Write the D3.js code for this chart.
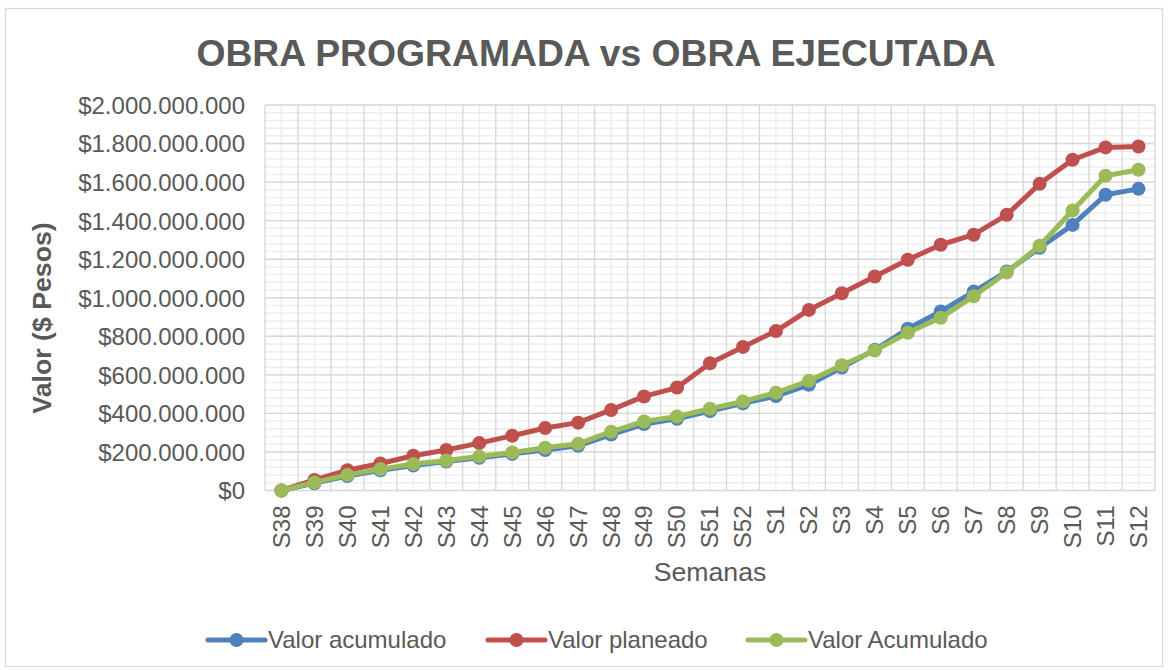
<!DOCTYPE html>
<html>
<head>
<meta charset="utf-8">
<script src="https://cdn.jsdelivr.net/npm/d3@7"></script>
<style>
  body { margin: 0; background: #fff; }
  text { font-family: 'Liberation Sans', Arial, sans-serif; fill: #595959; }
</style>
</head>
<body>
<div id="chart"></div>
<script>
var semanas = ['S38', 'S39', 'S40', 'S41', 'S42', 'S43', 'S44', 'S45', 'S46', 'S47', 'S48', 'S49', 'S50', 'S51', 'S52',
  'S1', 'S2', 'S3', 'S4', 'S5', 'S6', 'S7', 'S8', 'S9', 'S10', 'S11', 'S12']

// millones de pesos
var valorAcumulado = [0, 38, 75, 105, 130, 150, 170, 190, 210, 232, 290, 345, 372, 412, 452,
  490, 548, 638, 730, 839, 929, 1032, 1136, 1259, 1378, 1534, 1565]
var valorPlaneado = [0, 55, 105, 140, 180, 210, 246, 284, 324, 352, 418, 488, 534, 660, 745,
  827, 937, 1023, 1110, 1197, 1275, 1327, 1430, 1591, 1716, 1780, 1785]
var valorAcumulado2 = [0, 42, 81, 111, 137, 156, 176, 197, 222, 242, 305, 358, 384, 424, 462,
  507, 569, 650, 726, 818, 896, 1008, 1131, 1270, 1453, 1633, 1664]

var yTicks = [0, 200, 400, 600, 800, 1000, 1200, 1400, 1600, 1800, 2000]

var series = [
  { name: 'Valor acumulado', values: valorAcumulado, color: '#4F81BD' },
  { name: 'Valor planeado', values: valorPlaneado, color: '#C0504D' },
  { name: 'Valor Acumulado', values: valorAcumulado2, color: '#9BBB59' }
]

var W = 1168
var H = 670
var plot = { left: 265, right: 1155, top: 105, bottom: 490.5 }

var svg = d3
  .select('#chart')
  .append('svg')
  .attr('width', W)
  .attr('height', H)

// chart border
svg
  .append('rect')
  .attr('x', 5.5)
  .attr('y', 8.5)
  .attr('width', 1157)
  .attr('height', 658)
  .attr('fill', 'none')
  .attr('stroke', '#d9d9d9')
  .attr('stroke-width', 1.3)

var xScale = d3
  .scaleBand()
  .domain(semanas)
  .range([plot.left, plot.right])

var yScale = d3
  .scaleLinear()
  .domain([0, 2000])
  .range([plot.bottom, plot.top])

var money = function(v) {
  return '$' + d3.format(',')(v * 1e6).replace(/,/g, '.')
}

// minor grid
var grid = svg.append('g').attr('class', 'grid')
grid
  .selectAll('.hminor')
  .data(d3.range(0, 2001, 40))
  .enter()
  .append('line')
  .attr('x1', plot.left)
  .attr('x2', plot.right)
  .attr('y1', d => yScale(d))
  .attr('y2', d => yScale(d))
  .attr('stroke', '#eeeeee')
  .attr('stroke-width', 1.5)

grid
  .selectAll('.vminor')
  .data(semanas)
  .enter()
  .append('line')
  .attr('x1', d => xScale(d) + xScale.bandwidth() / 2)
  .attr('x2', d => xScale(d) + xScale.bandwidth() / 2)
  .attr('y1', plot.top)
  .attr('y2', plot.bottom)
  .attr('stroke', '#eeeeee')
  .attr('stroke-width', 1.5)

// major grid
grid
  .selectAll('.hmajor')
  .data(yTicks)
  .enter()
  .append('line')
  .attr('x1', plot.left)
  .attr('x2', plot.right)
  .attr('y1', d => yScale(d))
  .attr('y2', d => yScale(d))
  .attr('stroke', '#d9d9d9')
  .attr('stroke-width', 1.4)

grid
  .selectAll('.vmajor')
  .data(semanas.concat(['end']))
  .enter()
  .append('line')
  .attr('x1', d => (d === 'end' ? plot.right : xScale(d)))
  .attr('x2', d => (d === 'end' ? plot.right : xScale(d)))
  .attr('y1', plot.top)
  .attr('y2', plot.bottom)
  .attr('stroke', '#d9d9d9')
  .attr('stroke-width', 1.4)

// y axis labels
var yAxis = d3
  .axisLeft(yScale)
  .tickValues(yTicks)
  .tickFormat(money)
  .tickSize(0)
  .tickPadding(20)
svg
  .append('g')
  .attr('class', 'axis y-axis')
  .attr('transform', 'translate(' + plot.left + ',0)')
  .call(yAxis)
  .call(g => g.select('.domain').remove())
  .selectAll('text')
  .attr('font-size', 24)
  .attr('font-family', null)
  .attr('fill', '#595959')
  .attr('dy', '0.35em')

// x axis labels
var xAxis = d3.axisBottom(xScale).tickSize(0)
svg
  .append('g')
  .attr('class', 'axis x-axis')
  .attr('transform', 'translate(0,' + plot.bottom + ')')
  .call(xAxis)
  .call(g => g.select('.domain').remove())
  .selectAll('text')
  .attr('font-size', 24)
  .attr('font-family', null)
  .attr('fill', '#595959')
  .attr('text-anchor', 'end')
  .attr('transform', 'rotate(-90)')
  .attr('x', -15)
  .attr('y', 0)
  .attr('dy', '0.35em')

// lines + markers
var line = d3
  .line()
  .x((d, i) => xScale(semanas[i]) + xScale.bandwidth() / 2)
  .y(d => yScale(d))

series.forEach(s => {
  var g = svg.append('g')
  g.append('path')
    .datum(s.values)
    .attr('d', line)
    .attr('fill', 'none')
    .attr('stroke', s.color)
    .attr('stroke-width', 5)
    .attr('stroke-linejoin', 'round')
  g.selectAll('circle')
    .data(s.values)
    .enter()
    .append('circle')
    .attr('cx', (d, i) => xScale(semanas[i]) + xScale.bandwidth() / 2)
    .attr('cy', d => yScale(d))
    .attr('r', 7)
    .attr('fill', s.color)
})

// title
svg
  .append('text')
  .attr('x', 596)
  .attr('y', 66)
  .attr('text-anchor', 'middle')
  .attr('font-size', 37.3)
  .attr('font-weight', 'bold')
  .text('OBRA PROGRAMADA vs OBRA EJECUTADA')

svg
  .append('text')
  .attr('transform', 'translate(51,318) rotate(-90)')
  .attr('text-anchor', 'middle')
  .attr('font-size', 26.7)
  .attr('font-weight', 'bold')
  .text('Valor ($ Pesos)')

svg
  .append('text')
  .attr('x', 710)
  .attr('y', 581)
  .attr('text-anchor', 'middle')
  .attr('font-size', 26.7)
  .text('Semanas')

// legend
var legendX = [208, 488, 748]
var legend = svg
  .selectAll('.legend')
  .data(series)
  .enter()
  .append('g')
  .attr('class', 'legend')
  .attr('transform', (d, i) => 'translate(' + legendX[i] + ',640)')

legend
  .append('line')
  .attr('x1', 0)
  .attr('x2', 57)
  .attr('stroke', d => d.color)
  .attr('stroke-width', 5)
  .attr('stroke-linecap', 'round')
legend
  .append('circle')
  .attr('cx', 28.5)
  .attr('r', 7)
  .attr('fill', d => d.color)
legend
  .append('text')
  .attr('x', 60)
  .attr('dy', '0.35em')
  .attr('font-size', 24)
  .text(d => d.name)
</script>
</body>
</html>
